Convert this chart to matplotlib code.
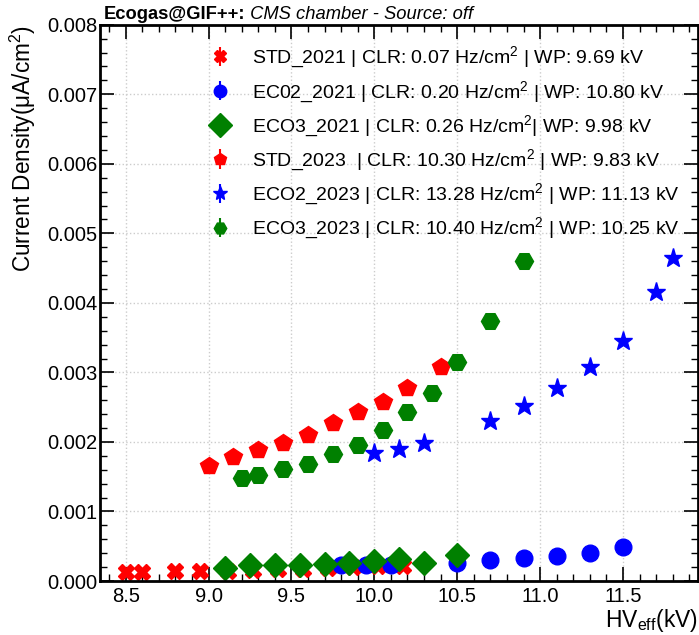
import numpy as np
import matplotlib
matplotlib.use("Agg")
import matplotlib.pyplot as plt
from matplotlib.ticker import MultipleLocator

plt.rcParams['font.family'] = ['Liberation Sans', 'DejaVu Sans']
plt.rcParams['mathtext.fontset'] = 'custom'
plt.rcParams['mathtext.rm'] = 'Liberation Sans'
plt.rcParams['mathtext.it'] = 'Liberation Sans:italic'
plt.rcParams['mathtext.bf'] = 'Liberation Sans:bold'

# HV_eff (kV) and current density (uA/cm2) per run
std21_hv = [8.5, 8.6, 8.8, 8.95, 9.12, 9.27, 9.42, 9.57, 9.72, 9.87, 10.02, 10.17]
std21_i = [0.00013, 0.00013, 0.00014, 0.00015, 0.00015, 0.00016, 0.00017, 0.00018,
           0.00019, 0.00020, 0.00021, 0.00022]

ec02_21_hv = [9.8, 9.95, 10.1, 10.5, 10.7, 10.9, 11.1, 11.3, 11.5]
ec02_21_i = [0.000227, 0.000227, 0.000235, 0.00026, 0.0003, 0.000324, 0.000362, 0.0004, 0.000486]

eco3_21_hv = [9.1, 9.25, 9.4, 9.55, 9.7, 9.85, 10.0, 10.15, 10.3, 10.5]
eco3_21_i = [0.00019, 0.000227, 0.000227, 0.000232, 0.000245, 0.00026, 0.00029, 0.000314,
             0.000266, 0.00037]

std23_hv = [9.0, 9.15, 9.3, 9.45, 9.6, 9.75, 9.9, 10.05, 10.2, 10.4]
std23_i = [0.001652, 0.001777, 0.001882, 0.001978, 0.002102, 0.002266, 0.002433, 0.002577,
           0.00277, 0.00308]

eco2_23_hv = [10.0, 10.15, 10.3, 10.7, 10.9, 11.1, 11.3, 11.5, 11.7, 11.8]
eco2_23_i = [0.001835, 0.001892, 0.001987, 0.002304, 0.002515, 0.00277, 0.00308, 0.00345,
             0.00415, 0.00464]

eco3_23_hv = [9.2, 9.3, 9.45, 9.6, 9.75, 9.9, 10.05, 10.2, 10.35, 10.5, 10.7, 10.9]
eco3_23_i = [0.001475, 0.001532, 0.001604, 0.00168, 0.00182, 0.001954, 0.00217, 0.002433,
             0.002706, 0.003148, 0.003742, 0.004606]

labels = [
    "STD_2021 | CLR: 0.07 Hz/cm$^2$ | WP: 9.69 kV",
    "EC02_2021 | CLR: 0.20 Hz/cm$^2$ | WP: 10.80 kV",
    "ECO3_2021 | CLR: 0.26 Hz/cm$^2$| WP: 9.98 kV",
    "STD_2023  | CLR: 10.30 Hz/cm$^2$ | WP: 9.83 kV",
    "ECO2_2023 | CLR: 13.28 Hz/cm$^2$ | WP: 11.13 kV",
    "ECO3_2023 | CLR: 10.40 Hz/cm$^2$ | WP: 10.25 kV",
]

series = [
    (std21_hv, std21_i, 'X', 'red', 12, 9),
    (ec02_21_hv, ec02_21_i, 'o', 'blue', 12, 9),
    (eco3_21_hv, eco3_21_i, 'D', 'green', 12, 12),
    (std23_hv, std23_i, 'p', 'red', 13, 9),
    (eco2_23_hv, eco2_23_i, '*', 'blue', 14, 10),
    (eco3_23_hv, eco3_23_i, 'H', 'green', 13, 9),
]

fig = plt.figure(figsize=(6.99, 6.35), dpi=100)
ax = fig.add_axes([0.143, 0.085, 0.855, 0.876])

handles = []
for hv, cur, m, c, ms, lms in series:
    ax.plot(hv, cur, ls='none', marker=m, color=c, ms=ms, mec=c)
    # proxy with error bar for the legend
    h = ax.errorbar([], [], yerr=[], fmt=m, color=c, ms=lms, elinewidth=1.5)
    handles.append(h)

ax.set_xlim(8.345, 11.95)
ax.set_ylim(0, 0.008)
ax.xaxis.set_major_locator(MultipleLocator(0.5))
ax.xaxis.set_minor_locator(MultipleLocator(0.1))
ax.yaxis.set_major_locator(MultipleLocator(0.001))
ax.yaxis.set_minor_locator(MultipleLocator(0.0002))
ax.yaxis.set_major_formatter(matplotlib.ticker.FormatStrFormatter('%.3f'))

ax.tick_params(which='both', direction='in', top=True, right=True, labelsize=14.5)
ax.tick_params(which='major', length=10, width=1.2)
ax.tick_params(which='minor', length=5, width=1)
ax.tick_params(axis='x', pad=4)
ax.tick_params(axis='y', pad=2)
for s in ax.spines.values():
    s.set_linewidth(2)

ax.grid(True, which='major', ls=':', color='#cccccc', lw=1)

ax.set_xlabel("HV$_{\\rm eff}$(kV)", fontsize=16.5, loc='right', labelpad=1)
ax.set_ylabel("Current Density(μA/cm$^2$)", fontsize=16.3)
ax.yaxis.set_label_coords(-0.103, 1.0)
ax.yaxis.label.set_horizontalalignment('right')

leg = ax.legend(handles, labels, loc='upper right', frameon=False, fontsize=14,
                labelspacing=0.46, handletextpad=0.65, bbox_to_anchor=(1.0, 0.995))

t = ax.text(0.006, 1.004, "Ecogas@GIF++:", transform=ax.transAxes, fontsize=13.2,
            fontweight='bold', va='bottom', ha='left')
ax.annotate(" CMS chamber - Source: off", xy=(1, 0), xycoords=t, fontsize=13.2,
            fontstyle='italic', va='bottom', ha='left')

fig.savefig("out.png", dpi=100)
